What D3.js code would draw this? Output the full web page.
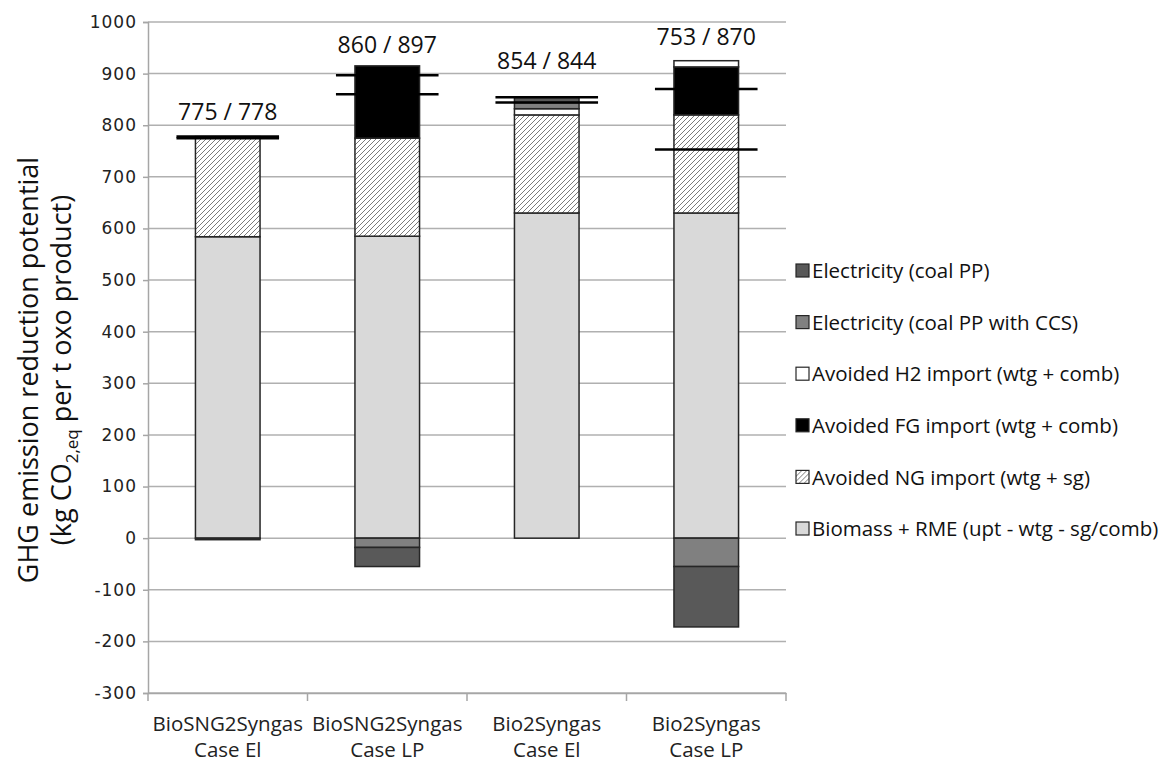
<!DOCTYPE html>
<html>
<head>
<meta charset="utf-8">
<script src="https://cdn.jsdelivr.net/npm/d3@7"></script>
<style>
  html, body { margin: 0; padding: 0; background: #fff; }
  svg { display: block; }
</style>
</head>
<body>
<svg id="chart" width="1169" height="762"></svg>
<script>
// Process cases on the x axis (two lines each)
const categories = [
  ["BioSNG2Syngas", "Case El"],
  ["BioSNG2Syngas", "Case LP"],
  ["Bio2Syngas", "Case El"],
  ["Bio2Syngas", "Case LP"]
];

// Stacked contributions, kg CO2,eq per t oxo product
const biomassRME   = [584, 585, 630, 630];
const ngImport     = [194, 190, 190, 190];
const fgImport     = [0, 140, 0, 93];
const h2Import     = [0, 0, 12, 12];
const elecCCS      = [0, -18, 12, -55];
const elecCoal     = [-3, -37, 10, -117];

// Net totals: coal PP case / coal PP with CCS case
const netCoal = [775, 860, 854, 753];
const netCCS  = [778, 897, 844, 870];

// Series names, bottom of stack first
const seriesKeys = ["bio", "ng", "fg", "h2", "ccs", "coal"];
const seriesLabels = {
  bio:  "Biomass + RME (upt - wtg - sg/comb)",
  ng:   "Avoided NG import (wtg + sg)",
  fg:   "Avoided FG import (wtg + comb)",
  h2:   "Avoided H2 import (wtg + comb)",
  ccs:  "Electricity (coal PP with CCS)",
  coal: "Electricity (coal PP)"
};

const yTicks = [-300, -200, -100, 0, 100, 200, 300, 400, 500, 600, 700, 800, 900, 1000];

// ---- layout & style ----
const fills = {
  bio: "#d9d9d9", ng: "url(#hatch)", fg: "#000000",
  h2: "#ffffff", ccs: "#808080", coal: "#595959"
};
const labelLift = [17, 13, 28, 16];   // px gap between stack top and value label
const textFont = "Open Sans, sans-serif";

const svg = d3.select("#chart");
const plot = { left: 148, right: 786, top: 22, bottom: 693 };

const rows = categories.map((c, i) => ({
  name: c.join(" "),
  bio: biomassRME[i], ng: ngImport[i], fg: fgImport[i],
  h2: h2Import[i], ccs: elecCCS[i], coal: elecCoal[i]
}));

const x = d3.scaleBand()
  .domain(rows.map(r => r.name))
  .range([plot.left, plot.right])
  .paddingInner(0).paddingOuter(0);

const y = d3.scaleLinear()
  .domain([-300, 1000])
  .range([plot.bottom, plot.top]);

const barW = x.bandwidth() * 0.405;

// hatch pattern for avoided NG import
const defs = svg.append("defs");
const pat = defs.append("pattern")
  .attr("id", "hatch")
  .attr("patternUnits", "userSpaceOnUse")
  .attr("width", 5).attr("height", 5);
pat.append("rect").attr("width", 5).attr("height", 5).attr("fill", "#ffffff");
pat.append("path")
  .attr("d", "M-1,1 L1,-1 M0,5 L5,0 M4,6 L6,4")
  .attr("stroke", "#7a7a7a").attr("stroke-width", 1);

// gridlines
svg.append("g")
  .selectAll("line")
  .data(yTicks)
  .join("line")
  .attr("x1", plot.left).attr("x2", plot.right)
  .attr("y1", d => y(d)).attr("y2", d => y(d))
  .attr("stroke", "#b0b0b0").attr("stroke-width", 1.5);

// y axis
const yAxis = svg.append("g")
  .attr("transform", `translate(${plot.left},0)`)
  .call(d3.axisLeft(y).tickValues(yTicks).tickSize(5).tickPadding(6).tickFormat(d => String(d)));
yAxis.select(".domain").attr("stroke", "#a6a6a6").attr("stroke-width", 1.5);
yAxis.selectAll(".tick line").attr("stroke", "#a6a6a6").attr("stroke-width", 1.5);
yAxis.selectAll(".tick text")
  .attr("font-family", "DejaVu Sans, Verdana, sans-serif")
  .attr("font-size", 17).attr("fill", "#222")
  .attr("letter-spacing", 1);

// x axis at the bottom of the plot
const xAxis = svg.append("g")
  .attr("transform", `translate(0,${plot.bottom})`)
  .call(d3.axisBottom(x).tickSize(0).tickFormat(""));
xAxis.select(".domain").attr("stroke", "#a6a6a6").attr("stroke-width", 1.5);
// category separator ticks
const sepX = [plot.left].concat(rows.map(r => x(r.name) + x.bandwidth()));
svg.append("g").selectAll("line").data(sepX).join("line")
  .attr("x1", d => d).attr("x2", d => d)
  .attr("y1", plot.bottom).attr("y2", plot.bottom + 8)
  .attr("stroke", "#a6a6a6").attr("stroke-width", 1.5);

// category labels
const catG = svg.append("g");
categories.forEach((c, i) => {
  const cx = x(rows[i].name) + x.bandwidth() / 2;
  const t = catG.append("text")
    .attr("x", cx).attr("y", 731)
    .attr("text-anchor", "middle")
    .attr("font-family", textFont)
    .attr("font-size", 20.5).attr("fill", "#222");
  t.append("tspan").attr("x", cx).attr("dy", 0).text(c[0]);
  t.append("tspan").attr("x", cx).attr("dy", 26).text(c[1]);
});

// stacked bars
const stack = d3.stack().keys(seriesKeys).offset(d3.stackOffsetDiverging);
const layers = stack(rows);

svg.append("g")
  .selectAll("g")
  .data(layers)
  .join("g")
  .attr("fill", d => fills[d.key])
  .selectAll("rect")
  .data(d => d.filter(s => s[1] !== s[0]))
  .join("rect")
  .attr("x", d => x(d.data.name) + (x.bandwidth() - barW) / 2)
  .attr("width", barW)
  .attr("y", d => y(Math.max(d[0], d[1])))
  .attr("height", d => Math.abs(y(d[0]) - y(d[1])))
  .attr("stroke", "#262626").attr("stroke-width", 1.5);

// net total markers
const markW = barW + 38;
const markG = svg.append("g");
rows.forEach((r, i) => {
  [netCoal[i], netCCS[i]].forEach(v => {
    markG.append("line")
      .attr("x1", x(r.name) + (x.bandwidth() - markW) / 2)
      .attr("x2", x(r.name) + (x.bandwidth() + markW) / 2)
      .attr("y1", y(v)).attr("y2", y(v))
      .attr("stroke", "#000").attr("stroke-width", 2.5);
  });
});

// value labels above each stack
rows.forEach((r, i) => {
  const top = Math.max(r.bio + r.ng + r.fg + r.h2 + Math.max(r.ccs, 0) + Math.max(r.coal, 0),
                       netCoal[i], netCCS[i]);
  svg.append("text")
    .attr("x", x(r.name) + x.bandwidth() / 2)
    .attr("y", y(top) - labelLift[i])
    .attr("text-anchor", "middle")
    .attr("font-family", textFont)
    .attr("font-size", 23).attr("fill", "#111")
    .text(`${netCoal[i]} / ${netCCS[i]}`);
});

// legend, top entry = top of stack
const legendKeys = seriesKeys.slice().reverse();
const lg = svg.append("g").attr("transform", "translate(796,270)");
legendKeys.forEach((k, i) => {
  const g = lg.append("g").attr("transform", `translate(0,${i * 51.6})`);
  g.append("rect")
    .attr("x", 0).attr("y", -6).attr("width", 13).attr("height", 13)
    .attr("fill", fills[k]).attr("stroke", "#262626").attr("stroke-width", 1.2);
  g.append("text")
    .attr("x", 16).attr("y", 1).attr("dy", "0.35em")
    .attr("font-family", textFont)
    .attr("font-size", 20.5).attr("fill", "#111")
    .text(seriesLabels[k]);
});

// y axis title
const yt = svg.append("text")
  .attr("transform", "translate(0,370) rotate(-90)")
  .attr("text-anchor", "middle")
  .attr("font-family", textFont)
  .attr("font-size", 27).attr("fill", "#111");
yt.append("tspan").attr("x", 0).attr("y", 38).text("GHG emission reduction potential");
const l2 = yt.append("tspan").attr("x", 0).attr("y", 71);
l2.append("tspan").text("(kg CO");
l2.append("tspan").attr("font-size", 17).attr("dy", 7).text("2,eq");
l2.append("tspan").attr("dy", -7).text(" per t oxo product)");
</script>
</body>
</html>
